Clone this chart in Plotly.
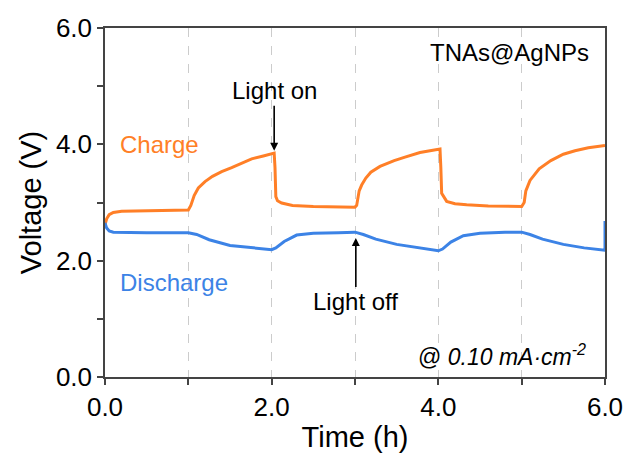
import plotly.graph_objects as go

# Galvanostatic charge / discharge profile under alternating illumination
charge_t = [0.0, 0.02, 0.05, 0.1, 0.2, 0.5, 1.0,
            1.03, 1.07, 1.12, 1.2, 1.29, 1.4, 1.52, 1.64, 1.76, 1.9, 2.03,
            2.04, 2.05, 2.07, 2.12, 2.25, 2.5, 3.0,
            3.02, 3.05, 3.08, 3.13, 3.19, 3.3, 3.47, 3.6, 3.78, 3.9, 4.02,
            4.03, 4.04, 4.1, 4.2, 4.34, 4.6, 5.0,
            5.03, 5.05, 5.1, 5.21, 5.35, 5.5, 5.64, 5.8, 6.0]
charge_v = [2.62, 2.72, 2.79, 2.83, 2.85, 2.86, 2.87,
            2.95, 3.12, 3.25, 3.36, 3.45, 3.53, 3.60, 3.68, 3.75, 3.80, 3.85,
            3.60, 3.10, 3.03, 2.99, 2.95, 2.93, 2.92,
            2.95, 3.20, 3.30, 3.42, 3.52, 3.62, 3.72, 3.78, 3.86, 3.89, 3.92,
            3.60, 3.16, 3.02, 2.98, 2.96, 2.94, 2.93,
            3.00, 3.20, 3.38, 3.58, 3.72, 3.83, 3.89, 3.94, 3.98]

discharge_t = [0.0, 0.02, 0.05, 0.1, 0.5, 1.0,
               1.1, 1.25, 1.5, 1.75, 2.0,
               2.05, 2.15, 2.3, 2.5, 2.8, 3.0,
               3.1, 3.25, 3.5, 3.75, 4.0,
               4.05, 4.15, 4.3, 4.5, 4.8, 5.0,
               5.1, 5.25, 5.5, 5.75, 6.0, 6.0]
discharge_v = [2.65, 2.56, 2.51, 2.49, 2.48, 2.48,
               2.45, 2.36, 2.26, 2.22, 2.19,
               2.22, 2.33, 2.44, 2.47, 2.48, 2.49,
               2.45, 2.37, 2.28, 2.22, 2.17,
               2.20, 2.32, 2.43, 2.47, 2.49, 2.49,
               2.45, 2.37, 2.28, 2.22, 2.18, 2.68]

x_ticks = [0, 2, 4, 6]
x_tick_labels = ["0.0", "2.0", "4.0", "6.0"]
y_ticks = [0, 2, 4, 6]
y_tick_labels = ["0.0", "2.0", "4.0", "6.0"]

ORANGE = "#FF7F27"
BLUE = "#3C83E6"
AXIS = "#444444"
GRID = "#CCCCCC"
FONT = "Liberation Sans, Arial, sans-serif"

fig = go.Figure()
fig.add_trace(go.Scatter(x=charge_t, y=charge_v, mode="lines",
                         line=dict(color=ORANGE, width=3), showlegend=False))
fig.add_trace(go.Scatter(x=discharge_t, y=discharge_v, mode="lines",
                         line=dict(color=BLUE, width=3), showlegend=False))

axis_common = dict(
    showline=True, linecolor=AXIS, linewidth=1.5, mirror=True,
    ticks="outside", ticklen=6, tickwidth=1.5, tickcolor=AXIS,
    zeroline=False,
    tickfont=dict(family=FONT, size=26, color="black"),
)

fig.update_xaxes(
    range=[0, 6], tickvals=x_ticks, ticktext=x_tick_labels,
    showgrid=True, gridcolor=GRID, griddash="dash", gridwidth=1,
    minor=dict(dtick=1, tick0=0, ticks="outside", ticklen=6, tickwidth=1.5,
               tickcolor=AXIS, showgrid=True, gridcolor=GRID,
               griddash="dash", gridwidth=1),
    title=dict(text="Time (h)", font=dict(family=FONT, size=29, color="black"),
               standoff=6),
    **axis_common,
)
fig.update_yaxes(
    range=[0, 6], tickvals=y_ticks, ticktext=y_tick_labels,
    showgrid=False,
    minor=dict(dtick=1, tick0=0, ticks="outside", ticklen=6, tickwidth=1.5,
               tickcolor=AXIS, showgrid=False),
    title=dict(text="Voltage (V)", font=dict(family=FONT, size=29, color="black"),
               standoff=6),
    **axis_common,
)

ann_font = dict(family=FONT, size=24, color="black")
annotations = [
    dict(x=0.16, y=3.99, text="Charge", xanchor="left", yanchor="middle",
         showarrow=False, font=dict(family=FONT, size=24, color=ORANGE)),
    dict(x=0.16, y=1.63, text="Discharge", xanchor="left", yanchor="middle",
         showarrow=False, font=dict(family=FONT, size=24, color=BLUE)),
    # arrow labels: text sits at the tail, arrowhead touches the curve
    dict(x=2.03, y=3.89, ax=0, ay=-60, text="Light on", showarrow=True,
         arrowhead=2, arrowsize=1, arrowwidth=1.6, arrowcolor="black",
         font=ann_font),
    dict(x=3.01, y=2.39, ax=0, ay=64, text="Light off", showarrow=True,
         arrowhead=2, arrowsize=1, arrowwidth=1.6, arrowcolor="black",
         font=ann_font),
    dict(x=5.83, y=5.58, text="TNAs@AgNPs", xanchor="right", yanchor="middle",
         showarrow=False, font=ann_font),
    dict(x=5.8, y=0.37, text="@ <i>0.10 mA·cm<sup>-2</sup></i>",
         xanchor="right", yanchor="middle", showarrow=False,
         font=dict(family=FONT, size=23, color="black")),
]
for a in annotations:
    a["xref"] = "x"
    a["yref"] = "y"
    if a.get("showarrow"):
        a["axref"] = "pixel"
        a["ayref"] = "pixel"
fig.update_layout(annotations=annotations)

fig.update_layout(
    width=635, height=460,
    margin=dict(l=105, r=25, t=28, b=76),
    paper_bgcolor="white", plot_bgcolor="white",
)

fig.write_html("out.html")
